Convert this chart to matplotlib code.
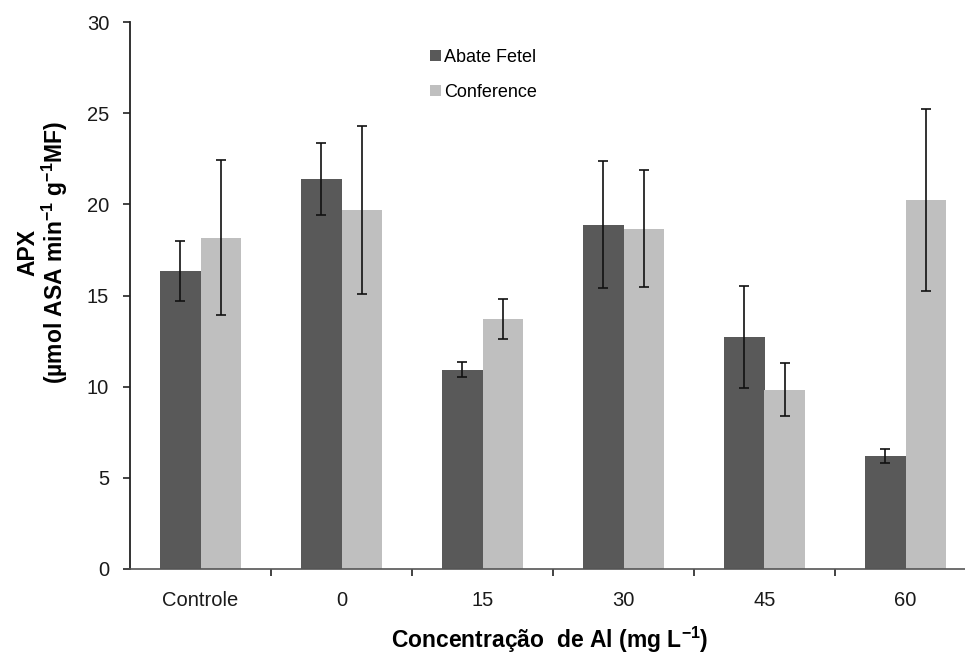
import matplotlib
matplotlib.use("Agg")
import matplotlib.pyplot as plt
import numpy as np

categories = ["Controle", "0", "15", "30", "45", "60"]
abate_fetel = [16.36, 21.39, 10.93, 18.89, 12.74, 6.22]
abate_err = [1.65, 2.0, 0.40, 3.5, 2.8, 0.38]
conference = [18.17, 19.67, 13.69, 18.67, 9.84, 20.24]
conference_err = [4.25, 4.6, 1.10, 3.2, 1.45, 5.0]
yticks = [0, 5, 10, 15, 20, 25, 30]

plt.rcParams['font.family'] = ['Liberation Sans', 'DejaVu Sans']
plt.rcParams['mathtext.fontset'] = 'custom'
plt.rcParams['mathtext.rm'] = 'Liberation Sans'
plt.rcParams['mathtext.bf'] = 'Liberation Sans:bold'

fig = plt.figure(figsize=(9.65, 6.57), dpi=100)
ax = fig.add_axes([130/965, 88/657, 846/965, 547/657])

x = np.arange(len(categories))
w = 0.29
ekw = dict(elinewidth=1.2, capthick=1.2, ecolor='#111111')
b1 = ax.bar(x - w/2, abate_fetel, w, color='#595959', yerr=abate_err,
            capsize=3.8, error_kw=ekw, label='Abate Fetel')
b2 = ax.bar(x + w/2, conference, w, color='#bfbfbf', yerr=conference_err,
            capsize=3.8, error_kw=ekw, label='Conference')

ax.set_xlim(-0.5, len(categories) - 0.5)
ax.set_ylim(0, 30)
ax.set_yticks(yticks)
ax.set_yticklabels([str(t) for t in yticks], fontsize=14.5, color='#1a1a1a')
ax.set_xticks(x)
ax.set_xticklabels(categories, fontsize=14.5, color='#1a1a1a')
ax.tick_params(axis='x', which='major', length=0, pad=16)
ax.set_xticks(np.arange(len(categories) - 1) + 0.5, minor=True)
ax.tick_params(axis='x', which='minor', length=5, width=1.2, color='#222222', direction='out')
ax.tick_params(axis='y', length=5, width=1.2, color='#222222', direction='out', pad=10)

for s in ['top', 'right']:
    ax.spines[s].set_visible(False)
ax.spines['left'].set_linewidth(1.3)
ax.spines['left'].set_color('#222222')
ax.spines['bottom'].set_linewidth(1.2)
ax.spines['bottom'].set_color('#555555')

fig.text(28/965, 1 - 252/657, 'APX', rotation=90, ha='center', va='center',
         fontsize=16.5, fontweight='bold')
fig.text(55/965, 1 - 252/657, r'(µmol ASA min$^{\mathbf{-1}}$ g$^{\mathbf{-1}}$MF)',
         rotation=90, ha='center', va='center', fontsize=16.5, fontweight='bold')
fig.text(550/965, 1 - 640/657, r'Concentração  de Al (mg L$^{\mathbf{-1}}$)',
         ha='center', va='center', fontsize=16.5, fontweight='bold')

ax.legend(handles=[b1, b2], loc='upper left', bbox_to_anchor=(421/965, 1 - 40/657),
          bbox_transform=fig.transFigure, frameon=False, fontsize=13,
          handlelength=0.6, handleheight=0.6, handletextpad=0.2, labelspacing=1.0,
          borderpad=0)

fig.savefig('out.png', dpi=100)
